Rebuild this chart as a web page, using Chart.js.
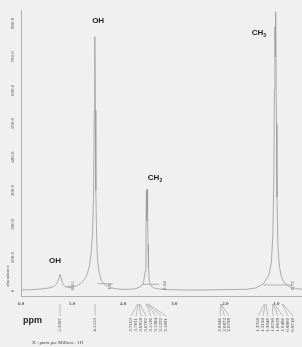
<!DOCTYPE html>
<html>
<head>
<meta charset="utf-8">
<script src="https://cdn.jsdelivr.net/npm/chart.js@4/dist/chart.umd.min.js"></script>
<style>
  html, body { margin: 0; padding: 0; background: #f0f0f0; }
  #wrap { position: relative; width: 302px; height: 347px; }
</style>
</head>
<body>
<div id="wrap"><canvas id="nmr"></canvas></div>
<script>
// spectrum (ppm, abundance)
const SHIFT = [6.00, 5.80, 5.60, 5.45, 5.35, 5.30, 5.26, 5.24, 5.22, 5.20, 5.17, 5.12, 5.05, 4.98, 4.90, 4.82, 4.75, 4.70, 4.66, 4.63, 4.60, 4.58, 4.565, 4.555, 4.545, 4.535, 4.52, 4.50, 4.47, 4.43, 4.37, 4.30, 4.20, 4.05, 3.90, 3.75, 3.65, 3.60, 3.57, 3.555, 3.545, 3.538, 3.530, 3.522, 3.514, 3.505, 3.49, 3.46, 3.40, 3.30, 3.10, 2.80, 2.40, 2.05, 2.00, 1.95, 1.60, 1.40, 1.25, 1.15, 1.10, 1.07, 1.05, 1.04, 1.03, 1.025, 1.02, 1.015, 1.01, 1.00, 0.99, 0.97, 0.94, 0.90, 0.85, 0.75, 0.60, 0.50];
const ABUNDANCE = [3, 4, 6, 9, 14, 22, 36, 50, 44, 30, 18, 12, 10, 12, 16, 24, 36, 52, 75, 110, 170, 290, 540, 760, 540, 300, 160, 90, 55, 32, 20, 13, 8, 5, 5, 7, 14, 26, 60, 170, 300, 210, 305, 240, 140, 70, 30, 16, 9, 6, 4, 3, 3, 4, 5, 4, 5, 9, 22, 48, 85, 170, 360, 600, 790, 700, 835, 760, 820, 500, 280, 130, 70, 40, 25, 13, 7, 5];

// integration traces (null = gap)
const INT_SHIFT = [5.10, 4.95, null, 4.50, 4.20, null, 3.62, 3.30, null, 1.25, 0.70];
const INT_VALUE = [14, 14, null, 22, 22, null, 20, 20, null, 18, 18];
const INT_LABELS = ['0.15', '1.0', '0.34', '0.72'];
const INT_LABEL_SHIFT = [4.98, 4.26, 3.18, 0.69];

const X_TICKS = [6.0, 5.0, 4.0, 3.0, 2.0, 1.0];
const Y_TICKS = [0, 100, 200, 300, 400, 500, 600, 700, 800];

const GROUP_NAMES = ['OH', 'OH', 'CH2', 'CH3'];
const GROUP_SHIFT = [4.49, 5.335, 3.377, 1.342];
const GROUP_LEVEL = [808, 90, 338, 771];

// peak lists printed under the axis
const PEAKS_OH = ['5.2397', '4.5553'];
const PEAKS_CH2 = ['3.7163', '3.7011', '3.6858', '3.6707', '3.5536', '3.5384', '3.5232', '3.5081'];
const PEAKS_MID = ['2.0946', '2.0872', '2.0798'];
const PEAKS_CH3 = ['1.2350', '1.2199', '1.2046', '1.0790', '1.0638', '1.0486', '0.8860', '0.8710'];

const spectrum = SHIFT.map((x, i) => ({ x: x, y: ABUNDANCE[i] }));
const integral = INT_SHIFT.map((x, i) => (x === null ? { x: NaN, y: null } : { x: x, y: INT_VALUE[i] }));

function vText(ctx, txt, x, y, align) {
  ctx.save();
  ctx.translate(x, y);
  ctx.rotate(-Math.PI / 2);
  ctx.textAlign = align;
  ctx.textBaseline = 'middle';
  ctx.fillText(txt, 0, 0);
  ctx.restore();
}

const decorations = {
  id: 'decorations',
  afterDraw(chart) {
    const ctx = chart.ctx;
    const xs = chart.scales.x;
    const ys = chart.scales.y;
    const area = chart.chartArea;

    // y tick labels, rotated
    ctx.fillStyle = '#555';
    ctx.font = '5px "Liberation Serif"';
    Y_TICKS.forEach((v) => {
      vText(ctx, v === 0 ? '0' : v.toFixed(1), 13, ys.getPixelForValue(v), 'center');
    });
    vText(ctx, 'abundance', 8, 276, 'center');

    // x tick labels
    ctx.font = 'bold 5px "Liberation Serif"';
    ctx.textAlign = 'center';
    ctx.textBaseline = 'middle';
    X_TICKS.forEach((v) => {
      ctx.fillText(v.toFixed(1), xs.getPixelForValue(v), area.bottom + 8);
    });

    // integration values
    ctx.font = '5px "Liberation Serif"';
    INT_LABELS.forEach((t, i) => {
      vText(ctx, t, xs.getPixelForValue(INT_LABEL_SHIFT[i]), area.bottom - 6, 'left');
    });

    // group names
    ctx.fillStyle = '#222';
    GROUP_NAMES.forEach((name, i) => {
      const px = xs.getPixelForValue(GROUP_SHIFT[i]);
      const py = ys.getPixelForValue(GROUP_LEVEL[i]);
      const base = name.slice(0, 2);
      const sub = name.slice(2);
      ctx.font = 'bold 8px "Liberation Sans"';
      ctx.textBaseline = 'middle';
      const w = ctx.measureText(base).width;
      ctx.font = 'bold 5px "Liberation Sans"';
      const ws = sub ? ctx.measureText(sub).width : 0;
      const left = px - (w + ws) / 2;
      ctx.font = 'bold 8px "Liberation Sans"';
      ctx.textAlign = 'left';
      ctx.fillText(base, left, py);
      if (sub) {
        ctx.font = 'bold 5px "Liberation Sans"';
        ctx.fillText(sub, left + w, py + 3);
      }
    });

    // "ppm" caption
    ctx.fillStyle = '#222';
    ctx.font = 'bold 9px "Liberation Sans"';
    ctx.textAlign = 'left';
    ctx.fillText('ppm', 23, 321);

    // peak lists with leader lines
    const top = area.bottom + 22;
    ctx.strokeStyle = '#999';
    ctx.lineWidth = 0.6;
    ctx.fillStyle = '#444';
    ctx.font = '5px "Liberation Serif"';
    const groups = [
      { labels: PEAKS_OH, cols: [60, 95], straight: true },
      { labels: PEAKS_CH2, start: 131, step: 5 },
      { labels: PEAKS_MID, start: 220, step: 4.5 },
      { labels: PEAKS_CH3, start: 258, step: 5 }
    ];
    groups.forEach((g) => {
      g.labels.forEach((t, i) => {
        const cx = g.cols ? g.cols[i] : g.start + i * g.step;
        const apex = g.straight ? cx : xs.getPixelForValue(parseFloat(t));
        ctx.beginPath();
        ctx.moveTo(apex, area.bottom + 8);
        ctx.lineTo(cx, top - 2);
        ctx.stroke();
        vText(ctx, t, cx, top, 'right');
      });
    });

    // footer
    ctx.fillStyle = '#444';
    ctx.font = '5px "Liberation Serif"';
    ctx.textAlign = 'left';
    ctx.fillText('X : parts per Million : 1H', 32, 343);
  }
};

new Chart(document.getElementById('nmr'), {
  type: 'line',
  data: {
    datasets: [
      {
        label: 'spectrum',
        data: spectrum,
        borderColor: '#9a9a9a',
        borderWidth: 0.8,
        pointRadius: 0,
        tension: 0,
        fill: false
      },
      {
        label: 'integral',
        data: integral,
        borderColor: '#a0a0a0',
        borderWidth: 0.8,
        pointRadius: 0,
        spanGaps: false,
        fill: false
      }
    ]
  },
  options: {
    responsive: true,
    maintainAspectRatio: false,
    animation: false,
    events: [],
    layout: { padding: { left: 21, top: 10, right: 0, bottom: 51 } },
    plugins: { legend: { display: false }, tooltip: { enabled: false } },
    scales: {
      x: {
        type: 'linear',
        reverse: true,
        min: 0.5,
        max: 6.0,
        afterBuildTicks: (s) => { s.ticks = X_TICKS.map((v) => ({ value: v })); },
        ticks: { display: false },
        grid: { display: false, drawTicks: false },
        border: { display: true, color: '#b0b0b0', width: 1 }
      },
      y: {
        type: 'linear',
        min: -15,
        max: 840,
        afterBuildTicks: (s) => { s.ticks = Y_TICKS.map((v) => ({ value: v })); },
        ticks: { display: false },
        grid: { display: false, drawTicks: false },
        border: { display: true, color: '#b0b0b0', width: 1 }
      }
    }
  },
  plugins: [decorations]
});
</script>
</body>
</html>
